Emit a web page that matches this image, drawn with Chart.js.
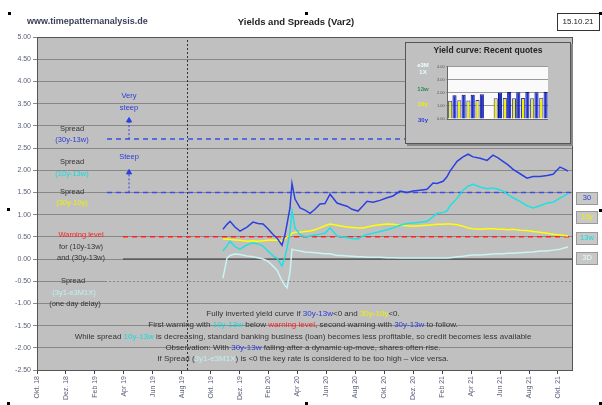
<!DOCTYPE html>
<html>
<head>
<meta charset="utf-8">
<script src="https://cdn.jsdelivr.net/npm/chart.js@4.4.0/dist/chart.umd.min.js"></script>
<style>
  body { margin: 0; background: #fff; }
  #wrap { position: relative; width: 602px; height: 405px; font-family: "Liberation Sans", Arial, sans-serif; }
  #inset { position: absolute; left: 405px; top: 42px; width: 164px; height: 100px; background: #c0c0c0;
           border: 1px solid #555; box-shadow: 2px 2px 0 #888; }
  #inset .title { position: absolute; left: 0; top: 2px; width: 100%; text-align: center; font-size: 8.5px; font-weight: bold; color: #222; }
  #inset .lbl { position: absolute; left: 6px; width: 22px; text-align: center; font-size: 6px; font-weight: bold; line-height: 7px; }
  #insetChart { position: absolute; left: 30px; top: 20px; }
</style>
</head>
<body>
<div id="wrap">
  <canvas id="chart" width="602" height="405"></canvas>
  <div id="inset">
    <div class="title">Yield curve: Recent quotes</div>
    <div class="lbl" style="top:19px;color:#e8ffff">e3M<br>1X</div>
    <div class="lbl" style="top:43px;color:#2e8b57">13w</div>
    <div class="lbl" style="top:58px;color:#f0f000">10y</div>
    <div class="lbl" style="top:74px;color:#2b3bd8">30y</div>
    <canvas id="insetChart" width="112" height="64"></canvas>
  </div>
</div>
<script>
// x axis: months since Okt. 2018
const monthLabels = ["Okt. 18", "Dez. 18", "Feb 19", "Apr 19", "Jun 19", "Aug 19", "Okt. 19", "Dez. 19",
  "Feb 20", "Apr 20", "Jun 20", "Aug 20", "Okt. 20", "Dez. 20", "Feb 21", "Apr 21", "Jun 21", "Aug 21", "Okt. 21"];

const dayX = [12.85, 13.13, 13.34, 13.68, 14.03, 14.51, 14.93, 15.27, 15.62, 15.96, 16.31, 16.59, 16.93, 17.14,
  17.28, 17.48, 17.62, 17.83, 18.18, 18.52, 18.87, 19.21, 19.56, 19.90, 20.25, 20.73, 21.08, 21.42, 21.77, 22.18,
  22.53, 22.81, 23.22, 23.70, 24.19, 24.60, 25.09, 25.57, 25.98, 26.47, 26.95, 27.37, 27.64, 28.06, 28.33, 28.54,
  29.03, 29.44, 29.79, 30.13, 30.62, 31.10, 31.51, 31.86, 32.20, 32.55, 32.90, 33.38, 33.86, 34.28, 34.76, 35.25,
  35.66, 36.14, 36.42, 36.70];

const spread30y13w = [0.67, 0.78, 0.85, 0.72, 0.63, 0.72, 0.83, 0.80, 0.79, 0.68, 0.55, 0.47, 0.31, 0.55,
  0.79, 1.15, 1.70, 1.35, 1.15, 1.10, 1.03, 1.12, 1.24, 1.25, 1.46, 1.26, 1.22, 1.19, 1.12, 1.08,
  1.20, 1.30, 1.28, 1.32, 1.38, 1.42, 1.53, 1.50, 1.53, 1.55, 1.57, 1.71, 1.70, 1.75, 1.85, 1.98,
  2.20, 2.30, 2.36, 2.30, 2.27, 2.22, 2.34, 2.28, 2.20, 2.12, 2.02, 1.92, 1.82, 1.86, 1.86, 1.88,
  1.91, 2.07, 2.03, 1.98];

const spread10y13w = [0.18, 0.30, 0.40, 0.28, 0.22, 0.32, 0.36, 0.34, 0.29, 0.18, 0.07, 0.02, -0.16, 0.05,
  0.25, 0.60, 1.08, 0.70, 0.55, 0.50, 0.52, 0.54, 0.56, 0.58, 0.70, 0.52, 0.50, 0.48, 0.46, 0.45,
  0.52, 0.55, 0.58, 0.62, 0.66, 0.70, 0.76, 0.80, 0.81, 0.83, 0.85, 0.95, 1.03, 1.05, 1.08, 1.20,
  1.37, 1.55, 1.64, 1.68, 1.62, 1.58, 1.60, 1.57, 1.53, 1.45, 1.38, 1.30, 1.20, 1.15, 1.20, 1.26,
  1.28, 1.37, 1.42, 1.48];

const spread30y10y = [0.45, 0.45, 0.44, 0.43, 0.42, 0.40, 0.41, 0.40, 0.41, 0.42, 0.43, 0.42, 0.40, 0.45,
  0.50, 0.52, 0.58, 0.60, 0.60, 0.62, 0.63, 0.66, 0.70, 0.75, 0.79, 0.76, 0.74, 0.72, 0.71, 0.70,
  0.70, 0.72, 0.75, 0.77, 0.79, 0.78, 0.76, 0.75, 0.74, 0.75, 0.76, 0.77, 0.78, 0.78, 0.79, 0.79,
  0.77, 0.74, 0.70, 0.68, 0.67, 0.68, 0.68, 0.67, 0.67, 0.66, 0.67, 0.65, 0.64, 0.62, 0.60, 0.58,
  0.56, 0.54, 0.53, 0.52];

const spread3yE3m = [-0.43, 0.02, 0.08, 0.11, 0.10, 0.07, 0.05, 0.03, 0.00, -0.05, -0.16, -0.25, -0.49, -0.60,
  -0.65, -0.30, 0.22, 0.20, 0.18, 0.16, 0.15, 0.14, 0.13, 0.12, 0.12, 0.08, 0.08, 0.07, 0.06, 0.05,
  0.05, 0.04, 0.04, 0.04, 0.03, 0.03, 0.02, 0.02, 0.02, 0.02, 0.02, 0.02, 0.02, 0.02, 0.02, 0.03,
  0.05, 0.06, 0.08, 0.09, 0.09, 0.10, 0.11, 0.12, 0.12, 0.13, 0.13, 0.14, 0.15, 0.16, 0.18, 0.18,
  0.20, 0.22, 0.25, 0.27];

// reference levels
const levelVerySteep = 2.7;
const levelSteep = 1.5;
const warningLevel = 0.5;
const zeroLevel = 0;
const levelLow = -0.5;
const refStartX = 4.84;
const warnStartX = 5.94;
const endX = 36.97;
const arrowX = 6.36;
const arrowTops = [3.12, 1.95];
const markerX = 10.4;

// inset: recent quotes
const insetDays = ["1", "2", "3", "4", "", "5", "6", "7", "8", "9", "10"];
const yield10y = [1.38, 1.42, 1.40, 1.45, null, 1.58, 1.60, 1.57, 1.60, 1.58, 1.62];
const yield30y = [1.80, 1.85, 1.84, 1.88, null, 2.02, 2.05, 2.03, 2.06, 2.04, 2.05];

const xy = (xs, ys) => xs.map((x, i) => ({ x: x, y: ys[i] }));
const hline = (x0, y) => [{ x: x0, y: y }, { x: endX, y: y }];

function line(data, color, width, dash) {
  return { data: data, borderColor: color, borderWidth: width, borderDash: dash || [], pointRadius: 0, fill: false, tension: 0 };
}

const blue = '#2b40e0', cyan = '#22e0e0', yellow = '#ffff00', pale = '#c8f4f4', red = '#ff2020';

function arrow(y0, y1) {
  return { data: [{ x: arrowX, y: y0 }, { x: arrowX, y: y1 }], borderColor: blue, backgroundColor: blue, borderWidth: 1,
    borderDash: [2, 2], pointRadius: [0, 3], pointStyle: 'triangle', fill: false };
}

const datasets = [
  line(xy(dayX, spread30y13w), blue, 1.5),
  line(xy(dayX, spread10y13w), cyan, 1.5),
  line(xy(dayX, spread30y10y), yellow, 1.5),
  line(xy(dayX, spread3yE3m), pale, 1.5),
  arrow(levelVerySteep, arrowTops[0]),
  arrow(levelSteep, arrowTops[1]),
  line(hline(refStartX, levelVerySteep), '#3a4be8', 1.5, [5, 4]),
  line(hline(refStartX, levelSteep), '#3a4be8', 1.5, [5, 4]),
  line(hline(warnStartX, warningLevel), red, 1.5, [5, 4]),
  line(hline(warnStartX, zeroLevel), '#333', 1),
  line(hline(refStartX, levelLow), '#d4d4d4', 1, [2, 2]),
  line([{ x: markerX, y: -2.5 }, { x: markerX, y: 5 }], '#333', 1, [2, 2])
];

function drawRich(ctx, parts, cx, y) {
  let w = 0;
  parts.forEach(p => { w += ctx.measureText(p[0]).width; });
  let x = cx - w / 2;
  parts.forEach(p => {
    ctx.fillStyle = p[1] || '#333';
    ctx.fillText(p[0], x, y);
    x += ctx.measureText(p[0]).width;
  });
}

const textBlue = '#2b3bd8', textCyan = '#10dcdc', textYellow = '#f0f000', textPale = '#c0f0f0';

const decor = {
  id: 'decor',
  beforeDraw(chart) {
    const { ctx, chartArea: a } = chart;
    ctx.save();
    ctx.fillStyle = '#c0c0c0';
    ctx.fillRect(a.left, a.top, a.right - a.left, a.bottom - a.top);
    ctx.restore();
  },
  afterDraw(chart) {
    const { ctx, chartArea: a } = chart;
    ctx.save();
    ctx.strokeStyle = '#555';
    ctx.lineWidth = 1;
    ctx.strokeRect(a.left + 0.5, a.top + 0.5, a.right - a.left, a.bottom - a.top);

    ctx.textBaseline = 'middle';
    // header
    ctx.font = 'bold 9px "Liberation Sans", Arial';
    ctx.fillStyle = '#3a3f5a';
    ctx.textAlign = 'left';
    ctx.fillText('www.timepatternanalysis.de', 27, 22);
    ctx.font = 'bold 9.5px "Liberation Sans", Arial';
    ctx.fillStyle = '#222';
    ctx.textAlign = 'center';
    ctx.fillText('Yields and Spreads (Var2)', 296, 22);
    ctx.fillStyle = '#fff';
    ctx.fillRect(557, 13, 42, 17);
    ctx.strokeStyle = '#333';
    ctx.strokeRect(557.5, 13.5, 42, 17);
    ctx.fillStyle = '#222';
    ctx.font = '8px "Liberation Sans", Arial';
    ctx.fillText('15.10.21', 578, 22);

    // selection handles
    ctx.fillStyle = '#000';
    [[8, 12], [305, 12], [599, 12], [7, 208], [599, 209], [7, 402], [305, 402], [599, 402]].forEach(p => ctx.fillRect(p[0], p[1], 3, 3));

    // left annotations
    ctx.font = '7.5px "Liberation Sans", Arial';
    const note = (t, x, y, c) => { ctx.fillStyle = c || '#333'; ctx.fillText(t, x, y); };
    note('Very', 129, 96, textBlue);
    note('steep', 129, 108, textBlue);
    note('Steep', 129, 157, textBlue);
    note('Spread', 72, 129);
    note('(30y-13w)', 72, 140, textBlue);
    note('Spread', 72, 162);
    note('(10y-13w)', 72, 174, textCyan);
    note('Spread', 72, 192);
    note('(30y-10y)', 72, 203, textYellow);
    note('Warning level', 81, 235, red);
    note('for (10y-13w)', 81, 247);
    note('and (30y-13w)', 81, 258);
    note('Spread', 73, 281);
    note('(3y1-e3M1X)', 74, 293, textPale);
    note('(one day delay)', 75, 304);

    // bottom notes
    ctx.font = '8px "Liberation Sans", Arial';
    ctx.textAlign = 'left';
    drawRich(ctx, [['Fully inverted yield curve if '], ['30y-13w', textBlue], ['<0 and '], ['30y-10y', textYellow], ['<0.']], 303, 314);
    drawRich(ctx, [['First warning with '], ['10y-13w', textCyan], [' below '], ['warning level', red], [', second warning with '], ['30y-13w', textBlue], [' to follow.']], 303, 325);
    drawRich(ctx, [['While spread '], ['10y-13w', textCyan], [' is decreasing, standard banking business (loan) becomes less profitable, so credit becomes less available']], 303, 337);
    drawRich(ctx, [['Observation: With '], ['30y-13w', textBlue], [' falling after a dynamic up-move, shares often rise.']], 303, 348);
    drawRich(ctx, [['If Spread ('], ['3y1-e3M1X', textPale], [') is <0 the key rate is considered to be too high \u2013 vice versa.']], 303, 359);

    // right side series tags
    ctx.font = '7.5px "Liberation Sans", Arial';
    const tags = [['30', textBlue, 198], ['10y', textYellow, 217], ['13w', textCyan, 238], ['3D', '#e8ffff', 258]];
    ctx.textAlign = 'center';
    tags.forEach(t => {
      ctx.fillStyle = '#c8c8c8';
      ctx.fillRect(576, t[2] - 6, 21, 12);
      ctx.strokeStyle = '#999';
      ctx.strokeRect(576.5, t[2] - 5.5, 21, 12);
      ctx.fillStyle = t[1];
      ctx.fillText(t[0], 587, t[2]);
    });
    ctx.restore();
  }
};

new Chart(document.getElementById('chart'), {
  type: 'line',
  data: { datasets: datasets },
  options: {
    responsive: false,
    animation: false,
    devicePixelRatio: 1,
    layout: { padding: { left: 0, right: 30, top: 37, bottom: 0 } },
    plugins: { legend: { display: false }, tooltip: { enabled: false } },
    scales: {
      x: {
        type: 'linear', min: 0, max: endX,
        afterBuildTicks: s => { s.ticks = monthLabels.map((l, i) => ({ value: i * 2 })); },
        afterFit: s => { s.height = 35; },
        ticks: {
          autoSkip: false, minRotation: 90, maxRotation: 90, padding: 2,
          color: '#5a5f7a', font: { size: 7, family: '"Liberation Sans", Arial' },
          callback: (v, i) => monthLabels[i]
        },
        grid: { drawOnChartArea: false, tickLength: 4, color: '#444' },
        border: { color: '#444' }
      },
      y: {
        min: -2.5, max: 5,
        afterFit: s => { s.width = 37; },
        ticks: {
          stepSize: 0.5, padding: 2, color: '#5a5f7a', font: { size: 7, family: '"Liberation Sans", Arial' },
          callback: v => v.toFixed(2)
        },
        grid: { color: '#888', tickLength: 4, lineWidth: 1 },
        border: { color: '#444' }
      }
    }
  },
  plugins: [decor]
});

const insetBg = {
  id: 'insetBg',
  beforeDraw(chart) {
    const { ctx, chartArea: a } = chart;
    ctx.save();
    ctx.fillStyle = '#fafafa';
    ctx.fillRect(a.left, a.top, a.right - a.left, a.bottom - a.top);
    ctx.restore();
  }
};

new Chart(document.getElementById('insetChart'), {
  type: 'bar',
  data: {
    labels: insetDays,
    datasets: [
      { data: yield10y, backgroundColor: '#f4f000', borderColor: '#2b3bd8', borderWidth: 1 },
      { data: yield30y, backgroundColor: '#1f2fd0', borderColor: '#101880', borderWidth: 1 }
    ]
  },
  options: {
    responsive: false,
    animation: false,
    devicePixelRatio: 1,
    layout: { padding: 0 },
    plugins: { legend: { display: false }, tooltip: { enabled: false } },
    datasets: { bar: { categoryPercentage: 0.95, barPercentage: 0.95 } },
    scales: {
      x: { ticks: { display: false }, grid: { display: false }, border: { color: '#666' } },
      y: {
        min: 0, max: 4,
        ticks: { stepSize: 1, font: { size: 4 }, color: '#555', padding: 1, callback: v => v.toFixed(2) },
        grid: { color: '#999', tickLength: 2 },
        border: { color: '#666' }
      }
    }
  },
  plugins: [insetBg]
});
</script>
</body>
</html>
